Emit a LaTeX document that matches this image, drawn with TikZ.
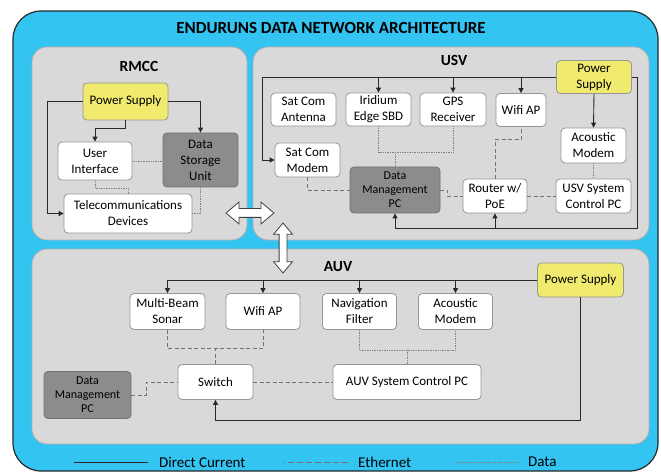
\documentclass[tikz,border=0pt]{standalone}
\usepackage{fontspec}
\setmainfont{Carlito}
\usepackage{xcolor}
\definecolor{skyblue}{RGB}{51,196,242}
\definecolor{panelgrey}{RGB}{217,217,217}
\definecolor{panelline}{RGB}{175,175,175}
\definecolor{boxline}{RGB}{150,150,150}
\definecolor{psyellow}{RGB}{240,234,110}
\definecolor{pcgrey}{RGB}{140,140,140}
\definecolor{inkdark}{RGB}{40,40,40}
\usetikzlibrary{arrows.meta,shapes.arrows}

\begin{document}
\begin{tikzpicture}[x=1pt,y=-1pt,
        box/.style={draw=boxline,fill=white,line width=0.8pt,rounded corners=4pt,inner sep=0pt,align=center,font=\fontsize{13}{16}\selectfont},
        psbox/.style={box,fill=psyellow},
        pcbox/.style={box,fill=pcgrey,draw=pcgrey!80!black,font=\fontsize{12}{14}\selectfont},
        paneltitle/.style={font=\fontsize{15.5}{18}\selectfont\bfseries},
        dcline/.style={draw=inkdark,line width=0.9pt},
        dc/.style={dcline,-{Triangle[length=5pt,width=5pt]}},
        eth/.style={draw=black!55,line width=0.9pt,dash pattern=on 4pt off 2.5pt},
        data/.style={draw=black!50,line width=0.7pt,densely dotted},
        bigarrow/.style={double arrow,draw=black!75,fill=white,line width=0.8pt,inner xsep=0pt,inner ysep=4pt,double arrow head extend=6.5pt,double arrow tip angle=80,minimum height=48pt}]
        \useasboundingbox (0,0) rectangle (661,473);

        % frame and panels
        \draw[draw=inkdark,fill=skyblue,line width=1.2pt,rounded corners=28pt] (13,11) rectangle (658,471);
        \draw[draw=panelline,fill=panelgrey,line width=0.8pt,rounded corners=15pt] (32,47) rectangle (247,240);
        \draw[draw=panelline,fill=panelgrey,line width=0.8pt,rounded corners=15pt] (253,47) rectangle (649,240);
        \draw[draw=panelline,fill=panelgrey,line width=0.8pt,rounded corners=15pt] (32,249) rectangle (649,444);

        \node[font=\fontsize{17}{20}\selectfont\bfseries] (title) at (331,28) {ENDURUNS DATA NETWORK ARCHITECTURE};
        \node[paneltitle] (trmcc) at (139,66) {RMCC};
        \node[paneltitle] (tusv) at (454,60) {USV};
        \node[paneltitle] (tauv) at (338,267) {AUV};

        % RMCC
        \node[psbox,minimum width=85pt,minimum height=37pt] (rps) at (125.5,101.5) {Power Supply};
        \node[box,minimum width=74pt,minimum height=38pt] (rui) at (95,161) {User\\Interface};
        \node[pcbox,minimum width=75pt,minimum height=54pt,font=\fontsize{13}{16}\selectfont] (rdsu) at (200.5,160) {Data\\Storage\\Unit};
        \node[box,minimum width=128pt,minimum height=39pt] (rtel) at (128,213.5) {Telecommunications\\Devices};

        \draw[dc] (rps.west) -- ++(-35,0) |- (rtel.west);
        \draw[dc] (rps.south) -- ++(0,8) -| (rui.north);
        \draw[dc] (rps.east) -| (rdsu.north);
        \draw[data] (rui.east) -- (rui.east -| rdsu.west);
        \draw[data] (rui.south) -- ++(0,8) -| (rtel.north);
        \draw[data] (rdsu.south) |- (rtel.east);

        % USV
        \node[psbox,minimum width=75pt,minimum height=33pt] (ups) at (594,77) {Power\\Supply};
        \node[box,minimum width=65pt,minimum height=33pt] (usca) at (303.5,109.5) {Sat Com\\Antenna};
        \node[box,minimum width=65pt,minimum height=33pt] (uird) at (378.5,109.5) {Iridium\\Edge SBD};
        \node[box,minimum width=66pt,minimum height=33pt] (ugps) at (453,109.5) {GPS\\Receiver};
        \node[box,minimum width=50pt,minimum height=33pt] (uwifi) at (521,110) {Wifi AP};
        \node[box,minimum width=65pt,minimum height=35pt] (uam) at (593.5,145.5) {Acoustic\\Modem};
        \node[box,minimum width=65pt,minimum height=34pt] (uscm) at (307.5,160) {Sat Com\\Modem};
        \node[pcbox,minimum width=90pt,minimum height=46pt] (udm) at (395,190) {Data\\Management\\PC};
        \node[box,minimum width=64pt,minimum height=34pt] (urtr) at (495,196) {Router w/\\PoE};
        \node[box,minimum width=75pt,minimum height=34pt] (usc) at (593.5,196) {USV System\\Control PC};
        \coordinate (ubus) at (0,228);

        \draw[dc] (ups.west) -- ++(-294,0) |- (uscm.west);
        \draw[dc] (uird.north |- ups.west) -- (uird.north);
        \draw[dc] (ugps.north |- ups.west) -- (ugps.north);
        \draw[dc] (uwifi.north |- ups.west) -- (uwifi.north);
        \draw[dc] (ups.south) -- (uam.north);
        \draw[dc] (ups.east) -- ++(6,0) |- (udm.south |- ubus) -- (udm.south);
        \draw[dc] (urtr.south |- ubus) -- (urtr.south);
        \draw[data] (uird.south) -- ++(0,26) -| (ugps.south);
        \draw[data] (udm.north) -- ++(0,-15);
        \draw[data] (uam.south) -- (usc.north);
        \draw[eth] (urtr.north) -- ++(0,-39) -| (uwifi.south);
        \draw[eth] (uscm.south) |- (udm.west);
        \draw[eth] (udm.east) -- ++(7,0) |- (urtr.west);
        \draw[eth] (urtr.east) -- (usc.west);

        % AUV
        \node[psbox,minimum width=86pt,minimum height=34pt] (aps) at (580.5,280) {Power Supply};
        \node[box,minimum width=75pt,minimum height=36pt] (ambs) at (167.5,311.5) {Multi-Beam\\Sonar};
        \node[box,minimum width=74pt,minimum height=36pt] (awifi) at (263,311.5) {Wifi AP};
        \node[box,minimum width=74pt,minimum height=36pt] (anav) at (359.5,311.5) {Navigation\\Filter};
        \node[box,minimum width=74pt,minimum height=36pt] (aam) at (455.5,311.5) {Acoustic\\Modem};
        \node[box,minimum width=75pt,minimum height=35pt] (aswi) at (215.5,382) {Switch};
        \node[box,minimum width=148pt,minimum height=35pt] (asc) at (407,382) {AUV System Control PC};
        \node[pcbox,minimum width=87pt,minimum height=47pt] (adm) at (87.5,395) {Data\\Management\\PC};

        \draw[dc] (aps.west) -| (ambs.north);
        \draw[dc] (awifi.north |- aps.west) -- (awifi.north);
        \draw[dc] (anav.north |- aps.west) -- (anav.north);
        \draw[dc] (aam.north |- aps.west) -- (aam.north);
        \draw[dc] (aps.south) -- ++(0,123) -| (aswi.south);
        \draw[eth] (ambs.south) -- ++(0,19) -| (awifi.south);
        \draw[eth] (aswi.north) -- ++(0,-16);
        \draw[data] (anav.south) -- ++(0,20) -| (aam.south);
        \draw[data] (asc.north) -- ++(0,-15);
        \draw[eth] (adm.east) -- ++(15,0) |- (aswi.west);
        \draw[eth] (aswi.east) -- (asc.west);

        % links between panels
        \node[bigarrow] (lnkh) at (250,213) {};
        \node[bigarrow,rotate=90,minimum height=50pt,inner ysep=3.5pt,double arrow head extend=5.5pt] (lnkv) at (283,248) {};

        % legend
        \node[anchor=west,inner sep=1pt,font=\fontsize{15}{18}\selectfont] (lgdc) at (158,462) {Direct Current};
        \node[anchor=west,inner sep=1pt,font=\fontsize{15}{18}\selectfont] (lgeth) at (357,462) {Ethernet};
        \node[anchor=west,inner sep=1pt,font=\fontsize{15}{18}\selectfont] (lgdata) at (527,462) {Data};
        \draw[dcline] ([xshift=-10pt]lgdc.west) -- ++(-74,0);
        \draw[eth,dash pattern=on 6pt off 3pt] ([xshift=-9pt]lgeth.west) -- ++(-64,0);
        \draw[data] ([xshift=-9pt]lgdata.west) -- ++(-64,0);
\end{tikzpicture}
\end{document}
